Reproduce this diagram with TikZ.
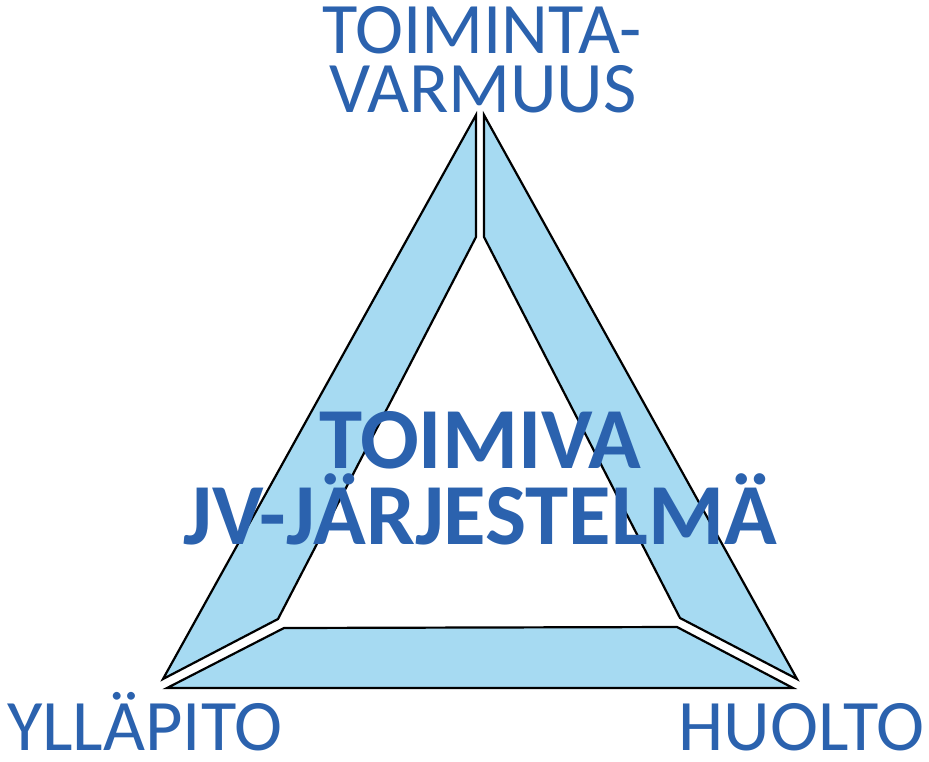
\documentclass[tikz,border=0pt]{standalone}
\usepackage{fontspec}
\setmainfont{Carlito}
\definecolor{txtblue}{HTML}{2B62AE}
\definecolor{fillblue}{HTML}{A6DAF2}
\begin{document}
\begin{tikzpicture}[x=1pt,y=-1pt,
  piece/.style={fill=fillblue,draw=black,line width=2.2pt,line join=miter},
  lbl/.style={text=txtblue,font=\fontsize{72.5}{78}\selectfont,inner sep=0pt,anchor=base},
  title/.style={text=txtblue,font=\bfseries\fontsize{87}{92}\selectfont,inner sep=0pt,anchor=base}]
\useasboundingbox (0,0) rectangle (929,761);
% triangle pieces
\draw[piece] (476,115) coordinate (lt) -- (476,237) -- (278,619) -- (163,679) -- cycle;
\draw[piece] (484,115) coordinate (rt) -- (797,679) -- (680,618) -- (484,237) -- cycle;
\draw[piece] (167,688) coordinate (bl) -- (793,688) -- (677,627) -- (284,628) -- cycle;
% labels
\node[lbl] (top1) at (482,53) {TOIMINTA-};
\node[lbl] (top2) at (483,112) {VARMUUS};
\node[title] (c1) at (480,468) {TOIMIVA};
\node[title] (c2) at (480,544) {JV-JÄRJESTELMÄ};
\node[lbl,anchor=base west] (yl) at (7,750) {YLLÄPITO};
\node[lbl,anchor=base east] (hu) at (925,750) {HUOLTO};
\end{tikzpicture}
\end{document}
